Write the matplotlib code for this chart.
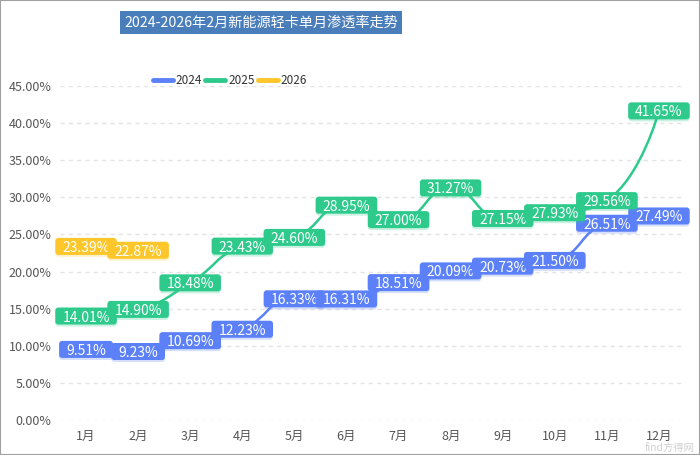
import math
import numpy as np
import matplotlib
matplotlib.use('Agg')
import matplotlib.pyplot as plt
from matplotlib.path import Path
from matplotlib.patches import PathPatch, FancyBboxPatch, Rectangle
from matplotlib.lines import Line2D
from matplotlib.transforms import IdentityTransform

plt.rcParams['font.family'] = ['Noto Sans CJK SC', 'DejaVu Sans']

# 数据
months = ['1月', '2月', '3月', '4月', '5月', '6月', '7月', '8月', '9月', '10月', '11月', '12月']
rate_2024 = [9.51, 9.23, 10.69, 12.23, 16.33, 16.31, 18.51, 20.09, 20.73, 21.50, 26.51, 27.49]
rate_2025 = [14.01, 14.90, 18.48, 23.43, 24.60, 28.95, 27.00, 31.27, 27.15, 27.93, 29.56, 41.65]
rate_2026 = [23.39, 22.87]
years = ['2024', '2025', '2026']
colors = ['#5b80f7', '#2dca8c', '#fdc62a']
title = '2024-2026年2月新能源轻卡单月渗透率走势'

fig = plt.figure(figsize=(7, 4.55), dpi=100)
ax = fig.add_axes([60 / 700, 35 / 455, 625 / 700, 334 / 455])
ax.set_xlim(-0.5, 11.5)
ax.set_ylim(0, 45)
ax.set_yticks(np.arange(0, 46, 5))
ax.yaxis.set_major_formatter(lambda v, p: f'{v:.2f}%')
ax.set_xticks(range(len(months)))
ax.set_xticklabels(months)
ax.tick_params(length=0, colors='#555555', labelsize=9)
ax.tick_params(axis='y', pad=6)
ax.tick_params(axis='x', pad=7)
for s in ax.spines.values():
    s.set_visible(False)
ax.grid(axis='y', color='#e4e4e4', linestyle=(0, (3, 3)), linewidth=1)
ax.set_axisbelow(True)

# 像素比例 (用于平滑曲线的控制点)
sx = 625 / 12
sy = 334 / 45


def smooth_path(vals, smooth=0.5):
    pts = [(i * sx, v * sy) for i, v in enumerate(vals)]
    n = len(pts)
    cin = [p for p in pts]
    cout = [p for p in pts]
    for i in range(1, n - 1):
        x, y = pts[i]
        px, py = pts[i - 1]
        nx, ny = pts[i + 1]
        vx, vy = nx - px, ny - py
        lp = math.hypot(x - px, y - py)
        ln = math.hypot(nx - x, ny - y)
        r = ln / (ln + lp)
        ox = x + vx * smooth * r
        oy = y + vy * smooth * r
        ox = min(max(ox, min(nx, x)), max(nx, x))
        oy = min(max(oy, min(ny, y)), max(ny, y))
        ix = x - (ox - x) * lp / ln
        iy = y - (oy - y) * lp / ln
        ix = min(max(ix, min(px, x)), max(px, x))
        iy = min(max(iy, min(py, y)), max(py, y))
        ox = x + (x - ix) * ln / lp
        oy = y + (y - iy) * ln / lp
        cin[i] = (ix, iy)
        cout[i] = (ox, oy)
    verts = [pts[0]]
    codes = [Path.MOVETO]
    for i in range(1, n):
        verts += [cout[i - 1], cin[i], pts[i]]
        codes += [Path.CURVE4] * 3
    verts = [(a / sx, b / sy) for a, b in verts]
    return Path(verts, codes)


series = [rate_2024, rate_2025, rate_2026]
texts = []
for k, (vals, c) in enumerate(zip(series, colors)):
    ax.add_patch(PathPatch(smooth_path(vals), fill=False, edgecolor=c, lw=1.8,
                           capstyle='round', joinstyle='round', zorder=3))
    for i, v in enumerate(vals):
        z = 5 + k + i * 0.02
        t = ax.text(i, v, f'{v:.2f}%', ha='center', va='center_baseline', color='white',
                    fontsize=10, zorder=z + 0.01)
        texts.append((t, c, z))

fig.canvas.draw()
renderer = fig.canvas.get_renderer()
for t, c, z in texts:
    bb = t.get_window_extent(renderer)
    cx, cy = ax.transData.transform(t.get_position())
    w = bb.width + 14
    h = 17
    shadow = FancyBboxPatch((cx - w / 2, cy - h / 2 - 2), w, h,
                            boxstyle='round,pad=0,rounding_size=3', fc=c, ec='none',
                            alpha=0.25, transform=IdentityTransform(), zorder=z - 0.005,
                            clip_on=False)
    box = FancyBboxPatch((cx - w / 2, cy - h / 2), w, h,
                         boxstyle='round,pad=0,rounding_size=3', fc=c, ec='none',
                         transform=IdentityTransform(), zorder=z, clip_on=False)
    ax.add_patch(shadow)
    ax.add_patch(box)

# 图例
handles = [Line2D([], [], color=c, lw=3.5, solid_capstyle='round') for c in colors]
fig.legend(handles, years, loc='center', bbox_to_anchor=(230 / 700, 1 - 81 / 455), ncol=3,
           frameon=False, handlelength=1.7, handletextpad=0.25, columnspacing=0.25,
           fontsize=8.5, labelcolor='#333333')

# 标题
fig.text(261 / 700, 1 - 22.5 / 455, title, ha='center', va='center', color='white', fontsize=10.2,
         bbox=dict(boxstyle='square,pad=0.32', fc='#4a7ebb', ec='none'))

# 水印
fig.text(0.992, 0.003, 'find方得网', ha='right', va='bottom', color='#c4c4c4', fontsize=7.5,
         alpha=0.8)

fig.add_artist(Rectangle((0, 0), 1, 1, transform=fig.transFigure, fill=False,
                         ec='#a0a0a0', lw=1.5))

fig.savefig('out.png', dpi=100)
